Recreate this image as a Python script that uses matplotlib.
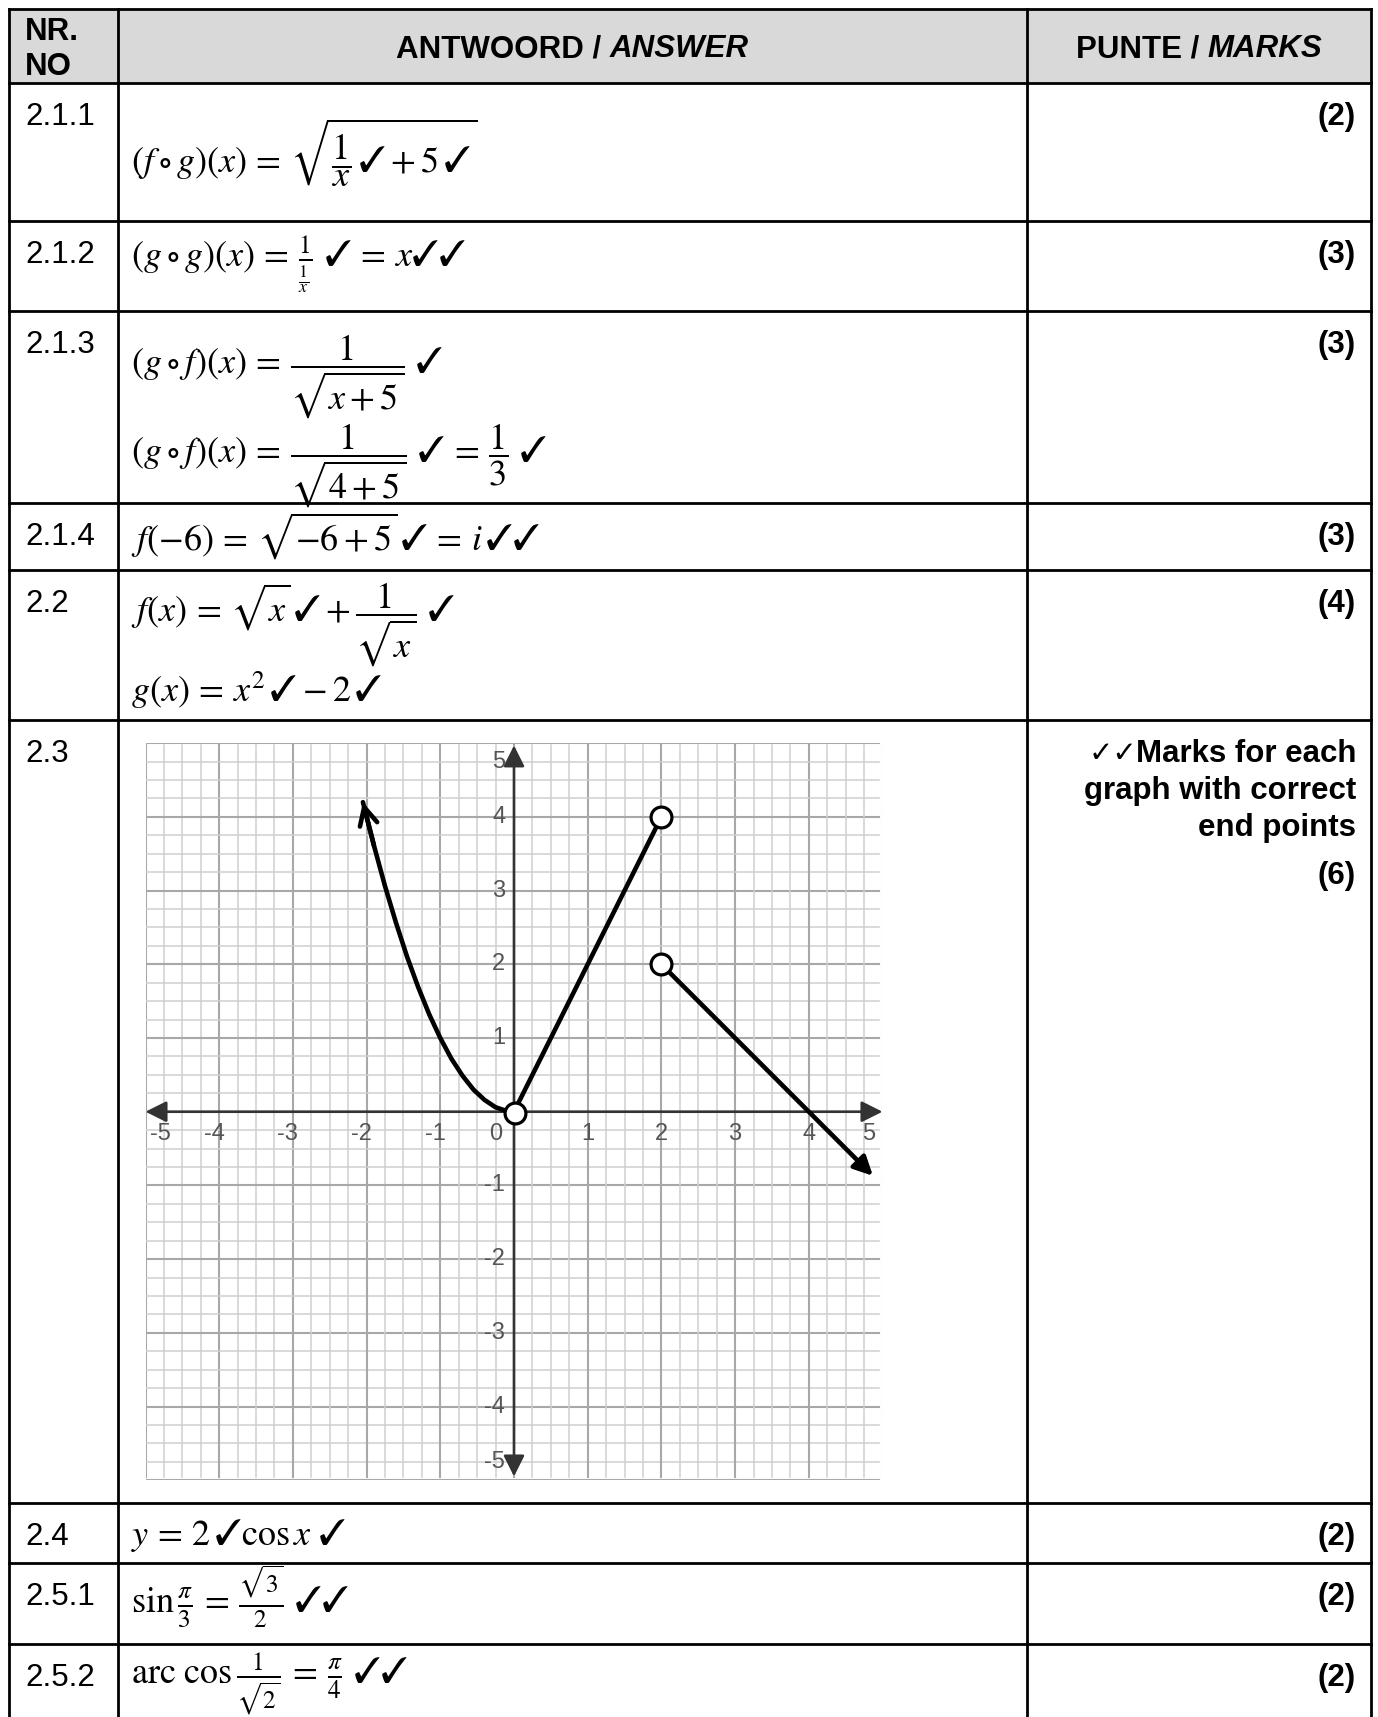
import matplotlib
matplotlib.use('Agg')
import matplotlib.pyplot as plt
from matplotlib import font_manager
from matplotlib.patches import Rectangle

plt.rcParams['mathtext.fontset'] = 'stix'
names = {f.name for f in font_manager.fontManager.ttflist}
narrow = 'Liberation Sans Narrow' if 'Liberation Sans Narrow' in names else 'Liberation Sans'
SANS = ['Liberation Sans', 'DejaVu Sans']

# table content
header = ['NR.\nNO', 'ANTWOORD / ', 'ANSWER', 'PUNTE / ', 'MARKS']
row_labels = ['2.1.1', '2.1.2', '2.1.3', '2.1.4', '2.2', '2.3', '2.4', '2.5.1', '2.5.2']
row_marks = ['(2)', '(3)', '(3)', '(3)', '(4)', '(6)', '(2)', '(2)', '(2)']
marks_note = ['Marks for each', 'graph with correct', 'end points']
answers = {
    '2.1.1': [r'$(f\circ g)(x)\,=\,\sqrt{\dfrac{1}{x}\,\checkmark+5\,\checkmark}$'],
    '2.1.2': [r'$(g\circ g)(x)\,=\,\frac{1}{\frac{1}{x}}\ \checkmark\,=\,x\checkmark\checkmark$'],
    '2.1.3': [r'$(g\circ f)(x)\,=\,\dfrac{1}{\sqrt{x+5}}\ \checkmark$',
              r'$(g\circ f)(x)\,=\,\dfrac{1}{\sqrt{4+5}}\ \checkmark\,=\,\dfrac{1}{3}\ \checkmark$'],
    '2.1.4': [r'$f(-6)\,=\,\sqrt{-6+5}\,\checkmark\,=\,i\,\checkmark\checkmark$'],
    '2.2': [r'$f(x)\,=\,\sqrt{x}\,\checkmark+\dfrac{1}{\sqrt{x}}\ \checkmark$',
            r'$g(x)\,=\,x^2\,\checkmark-2\,\checkmark$'],
    '2.4': [r'$y\,=\,2\,\checkmark\cos x\ \checkmark$'],
    '2.5.1': [r'$\sin\frac{\pi}{3}\,=\,\frac{\sqrt{3}}{2}\ \checkmark\checkmark$'],
    '2.5.2': [r'$\mathrm{arc}\ \cos\frac{1}{\sqrt{2}}\,=\,\frac{\pi}{4}\ \checkmark\checkmark$'],
}

# graph content
par_x = [-2.05, -1.9, -1.75, -1.6, -1.45, -1.3, -1.15, -1.0, -0.85, -0.7, -0.55, -0.4, -0.25, -0.1, 0.0]
par_y = [4.2, 3.61, 3.06, 2.56, 2.1, 1.69, 1.32, 1.0, 0.72, 0.49, 0.3, 0.16, 0.06, 0.01, 0.0]
lin_x = [0, 2]
lin_y = [0, 4]
ray_x = [2, 4.87]
ray_y = [2, -0.87]
open_x = [0.02, 2, 2]
open_y = [-0.02, 4, 2]
ticks = [-5, -4, -3, -2, -1, 1, 2, 3, 4, 5]

W, H = 1378, 1717
fig = plt.figure(figsize=(W / 100, H / 100), dpi=100)
tab = fig.add_axes([0, 0, 1, 1])
tab.set_xlim(0, W)
tab.set_ylim(H, 0)
tab.axis('off')

# layout in pixels
L, R, T = 9, 1371, 9
c1, c2 = 118, 1027
row_tops = [83, 221, 311, 503, 570, 720, 1503, 1563, 1644]
lw = 2.0

tab.add_patch(Rectangle((L, T), R - L, row_tops[0] - T, color='#d9d9d9', zorder=0))
for y in [T] + row_tops:
    tab.plot([L, R], [y, y], color='black', lw=lw, solid_capstyle='projecting')
for x in [L, c1, c2, R]:
    tab.plot([x, x], [T, H], color='black', lw=lw, solid_capstyle='projecting')

fs = 22.5
tab.text(25, 40, 'NR.', fontsize=fs, fontweight='bold', family=SANS, va='baseline')
tab.text(25, 75, 'NO', fontsize=fs, fontweight='bold', family=SANS, va='baseline')
tab.text(572, 57, header[1], fontsize=fs, fontweight='bold', family=SANS, va='baseline', ha='right')
tab.text(572, 57, header[2], fontsize=fs, fontweight='bold', style='italic', family=SANS, va='baseline', ha='left')
tab.text(1199, 57, header[3], fontsize=fs, fontweight='bold', family=SANS, va='baseline', ha='right')
tab.text(1199, 57, header[4], fontsize=fs, fontweight='bold', style='italic', family=SANS, va='baseline', ha='left')

# centre the two-part headers
fig.canvas.draw()
rend = fig.canvas.get_renderer()
texts = tab.texts[2:6]
for a, b, cx in [(texts[0], texts[1], 572), (texts[2], texts[3], 1199)]:
    wa = a.get_window_extent(rend).width
    wb = b.get_window_extent(rend).width
    split = cx - (wa + wb) / 2 + wa
    a.set_x(split)
    b.set_x(split)

base_y = {'2.1.1': [173], '2.1.2': [267], '2.1.3': [374, 463], '2.1.4': [550],
          '2.2': [622, 702], '2.4': [1545], '2.5.1': [1612], '2.5.2': [1684]}
mfs = 26
for top, lab, mk in zip(row_tops, row_labels, row_marks):
    tab.text(25, top + 42, lab, fontsize=fs, family=SANS, va='baseline')
    if lab == '2.3':
        for i, s in enumerate(marks_note):
            tab.text(1356, top + 42 + 37 * i, s, fontsize=fs, fontweight='bold',
                     family=SANS, va='baseline', ha='right')
        # the two ticks in front of the first line
        first = tab.texts[-3]
        fig.canvas.draw()
        x0 = tab.transData.inverted().transform(first.get_window_extent(rend))[0][0]
        tab.text(x0 + 2, top + 42, '\u2713\u2713', fontsize=21, family=['DejaVu Sans'],
                 fontweight='bold', style='italic', va='baseline', ha='right')
        tab.text(1356, top + 164, mk, fontsize=fs, fontweight='bold', family=SANS,
                 va='baseline', ha='right')
        continue
    tab.text(1356, top + 42, mk, fontsize=fs, fontweight='bold', family=SANS,
             va='baseline', ha='right')
    for s, yb in zip(answers[lab], base_y[lab]):
        tab.text(131, yb, s, fontsize=mfs, va='baseline')

# graph for 2.3
u = 73.7
ox, oy = 514, 1111.7
gx = fig.add_axes([(ox - 5 * u) / W, 1 - (oy + 5 * u) / H, 10 * u / W, 10 * u / H])
gx.set_xlim(-5, 5)
gx.set_ylim(-5, 5)
gx.axis('off')

for k in range(-20, 21):
    v = k / 4
    if k % 4 == 0:
        c, w = '#a8a8a8', 1.5
    else:
        c, w = '#cfcfcf', 1.1
    gx.plot([v, v], [-4.95, 4.97], color=c, lw=w, zorder=1)
    gx.plot([-5, 4.95], [v, v], color=c, lw=w, zorder=1)

axc = '#333333'
gx.annotate('', xy=(5, 0), xytext=(-5, 0),
            arrowprops=dict(arrowstyle='<|-|>', color=axc, lw=1.9, mutation_scale=32,
                            shrinkA=0, shrinkB=0), zorder=2)
gx.annotate('', xy=(0, 4.97), xytext=(0, -4.95),
            arrowprops=dict(arrowstyle='<|-|>', color=axc, lw=1.9, mutation_scale=32,
                            shrinkA=0, shrinkB=0), zorder=2)

tc = '#555555'
tfs = 17
for t in ticks:
    xl = max(min(t, 4.81), -4.8)
    if t < 0 and t > -5:
        xl = t - 0.07
    gx.text(xl, -0.3, str(t), color=tc, fontsize=tfs, family=narrow, ha='center', va='center')
    yl = max(min(t, 4.75), -4.75)
    gx.text(-0.12, yl, str(t), color=tc, fontsize=tfs, family=narrow, ha='right', va='center')
gx.text(-0.25, -0.3, '0', color=tc, fontsize=tfs, family=narrow, ha='center', va='center')

cw = 3.3
gx.plot(par_x, par_y, color='black', lw=cw, solid_capstyle='round', zorder=3)
gx.annotate('', xy=(par_x[0], par_y[0]), xytext=(par_x[1], par_y[1]),
            arrowprops=dict(arrowstyle='->', color='black', lw=cw, mutation_scale=32,
                            shrinkA=0, shrinkB=0), zorder=3)
gx.plot(lin_x, lin_y, color='black', lw=cw, zorder=3)
gx.annotate('', xy=(ray_x[1], ray_y[1]), xytext=(ray_x[0], ray_y[0]),
            arrowprops=dict(arrowstyle='-|>', color='black', lw=cw, mutation_scale=28,
                            shrinkA=0, shrinkB=0), zorder=3)
gx.plot(open_x, open_y, 'o', ms=15, mfc='white', mec='black', mew=2.3, zorder=4)

fig.savefig('out.png', dpi=100)
